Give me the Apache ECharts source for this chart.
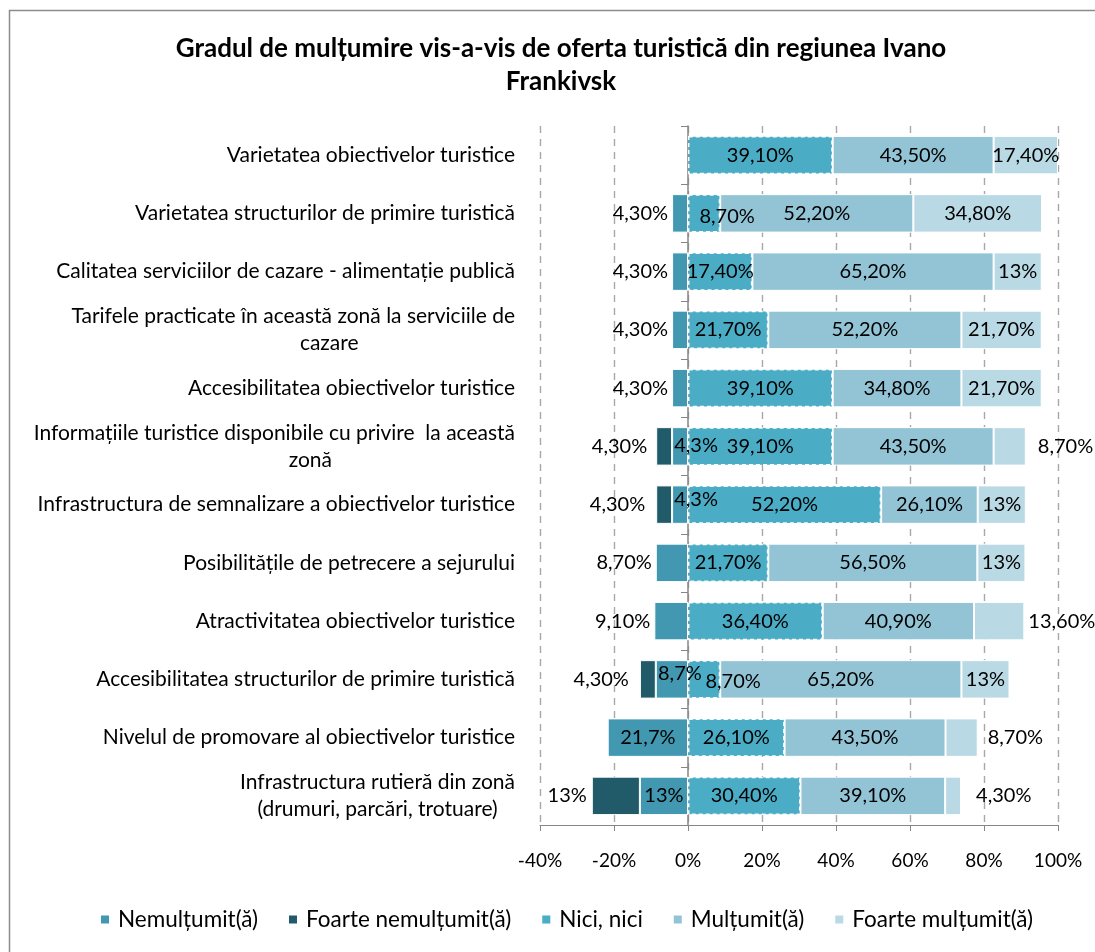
<!DOCTYPE html>
<html>
<head>
<meta charset="utf-8">
<script src="https://cdn.jsdelivr.net/npm/echarts@6/dist/echarts.min.js"></script>
<style>
html,body{margin:0;padding:0;background:#fff;}
#chart{width:1095px;height:952px;}
</style>
</head>
<body>
<div id="chart"></div>
<script>
// ---- data ----
const categories = [
  'Varietatea obiectivelor turistice',
  'Varietatea structurilor de primire turistică',
  'Calitatea serviciilor de cazare - alimentație publică',
  'Tarifele practicate în această zonă la serviciile de\ncazare',
  'Accesibilitatea obiectivelor turistice',
  'Informațiile turistice disponibile cu privire  la această\nzonă',
  'Infrastructura de semnalizare a obiectivelor turistice',
  'Posibilitățile de petrecere a sejurului',
  'Atractivitatea obiectivelor turistice',
  'Accesibilitatea structurilor de primire turistică',
  'Nivelul de promovare al obiectivelor turistice',
  'Infrastructura rutieră din zonă\n(drumuri, parcări, trotuare)'
];
const seriesNames = ['Nemulțumit(ă)', 'Foarte nemulțumit(ă)', 'Nici, nici', 'Mulțumit(ă)', 'Foarte mulțumit(ă)'];
const nemultumit       = [null, 4.3, 4.3, 4.3, 4.3, 4.3, 4.3, 8.7, 9.1, 8.7, 21.7, 13];
const foarteNemultumit = [null, null, null, null, null, 4.3, 4.3, null, null, 4.3, null, 13];
const niciNici         = [39.1, 8.7, 17.4, 21.7, 39.1, 39.1, 52.2, 21.7, 36.4, 8.7, 26.1, 30.4];
const multumit         = [43.5, 52.2, 65.2, 52.2, 34.8, 43.5, 26.1, 56.5, 40.9, 65.2, 43.5, 39.1];
const foarteMultumit   = [17.4, 34.8, 13, 21.7, 21.7, 8.7, 13, 13, 13.6, 13, 8.7, 4.3];

const nemLabels        = [null, '4,30%', '4,30%', '4,30%', '4,30%', '4,3%', '4,3%', '8,70%', '9,10%', '8,7%', '21,7%', '13%'];
const foarteNemLabels  = [null, null, null, null, null, '4,30%', '4,30%', null, null, '4,30%', null, '13%'];
const niciLabels       = ['39,10%', '8,70%', '17,40%', '21,70%', '39,10%', '39,10%', '52,20%', '21,70%', '36,40%', '8,70%', '26,10%', '30,40%'];
const multLabels       = ['43,50%', '52,20%', '65,20%', '52,20%', '34,80%', '43,50%', '26,10%', '56,50%', '40,90%', '65,20%', '43,50%', '39,10%'];
const foarteMultLabels = ['17,40%', '34,80%', '13%', '21,70%', '21,70%', '8,70%', '13%', '13%', '13,60%', '13%', '8,70%', '4,30%'];

const xTicks = { min: -40, max: 100, interval: 20 };

// ---- styling / build ----
const FONT = 'Lato';
const colors = ['#4198B0', '#215B69', '#4BACC6', '#93C4D6', '#B9D9E5'];

// per-point label placement (styling only)
const labelTweaks = [
  { 1: {position: 'left', distance: 4}, 2: {position: 'left', distance: 4}, 3: {position: 'left', distance: 4},
    4: {position: 'left', distance: 4}, 7: {position: 'left', distance: 4}, 8: {position: 'left', distance: 4},
    5: {offset: [16, -1]}, 6: {offset: [16, -5]}, 9: {offset: [8, -6]} },
  { 5: {position: 'left', distance: 9}, 6: {position: 'left', distance: 11}, 9: {position: 'left', distance: 11},
    11: {position: 'left', distance: 5} },
  { 1: {offset: [23, 3]}, 9: {offset: [29, 2]} },
  {},
  { 5: {position: 'right', distance: 12}, 8: {position: 'right', distance: 4},
    10: {position: 'right', distance: 10}, 11: {position: 'right', distance: 15} }
];
// second-line shift of wrapped category labels (styling only)
const wrapStyle = { 3: 'p1', 5: 'p2' };

function buildSeries(idx, values, labels, sign, itemStyleExtra) {
  return {
    name: seriesNames[idx],
    type: 'bar',
    stack: 'total',
    barCategoryGap: '34%',
    itemStyle: Object.assign({ color: colors[idx], borderColor: '#ffffff', borderWidth: 1 }, itemStyleExtra || {}),
    label: {
      show: true,
      position: 'inside',
      color: '#000',
      fontSize: 20,
      fontFamily: FONT,
      formatter: p => labels[p.dataIndex] || ''
    },
    emphasis: { disabled: true },
    data: values.map((v, i) => {
      if (v == null) return null;
      const item = { value: sign * v };
      if (labelTweaks[idx][i]) item.label = labelTweaks[idx][i];
      return item;
    })
  };
}

const series = [
  buildSeries(0, nemultumit, nemLabels, -1),
  buildSeries(1, foarteNemultumit, foarteNemLabels, -1),
  buildSeries(2, niciNici, niciLabels, 1, { borderColor: 'rgba(255,255,255,0.95)', borderWidth: 1.5, borderType: [4, 3] }),
  buildSeries(3, multumit, multLabels, 1),
  buildSeries(4, foarteMultumit, foarteMultLabels, 1)
];

const catText = { align: 'center', fontFamily: FONT, fontSize: 21, color: '#000', lineHeight: 27 };

const chart = echarts.init(document.getElementById('chart'), null, { renderer: 'canvas' });
chart.setOption({
  animation: false,
  backgroundColor: '#fff',
  textStyle: { fontFamily: FONT },
  title: {
    text: 'Gradul de mulțumire vis-a-vis de oferta turistică din regiunea Ivano\nFrankivsk',
    left: 556,
    textAlign: 'center',
    top: 27,
    textStyle: { fontFamily: FONT, fontWeight: 'bold', fontSize: 26, color: '#000', lineHeight: 33 }
  },
  graphic: [{
    type: 'rect', shape: { x: 9.5, y: 10.5, width: 1200, height: 1000 },
    style: { fill: 'none', stroke: '#8c8c8c', lineWidth: 1.5 }, silent: true, z: 100
  }],
  legend: {
    data: seriesNames,
    left: 94,
    top: 903,
    itemWidth: 10,
    itemHeight: 10,
    itemGap: 29,
    icon: 'rect',
    textStyle: { fontFamily: FONT, fontSize: 22.5, color: '#000', padding: [0, 0, 0, 3] },
    selectedMode: false
  },
  grid: { left: 540, right: 37, top: 126, bottom: 127, containLabel: false },
  xAxis: {
    type: 'value',
    min: xTicks.min, max: xTicks.max, interval: xTicks.interval,
    axisLine: { show: true, onZero: false, lineStyle: { color: '#868686', width: 1 } },
    axisTick: { show: true, length: 6, lineStyle: { color: '#868686' } },
    axisLabel: { formatter: '{value}%', fontFamily: FONT, fontSize: 19, color: '#000', margin: 26 },
    splitLine: { show: true, lineStyle: { color: '#a8a8a8', type: [7, 6], width: 1.4 } }
  },
  yAxis: [
    {
      type: 'category', data: categories, inverse: true, position: 'left',
      axisLine: { show: false, onZero: false },
      axisTick: { show: false },
      axisLabel: {
        margin: 25,
        formatter: (v, i) => v.split('\n').map((s, k) => '{' + (k > 0 && wrapStyle[i] ? wrapStyle[i] : 'c') + '|' + s + '}').join('\n'),
        rich: {
          c: catText,
          p1: Object.assign({}, catText, { padding: [0, 0, 0, 72] }),
          p2: Object.assign({}, catText, { padding: [0, 0, 0, 72] })
        }
      }
    },
    {
      type: 'category', data: categories, inverse: true, position: 'left',
      axisLine: { show: true, onZero: true, onZeroAxisIndex: 0, lineStyle: { color: '#868686', width: 1.5 } },
      axisTick: { show: true, length: 7, lineStyle: { color: '#868686' } },
      axisLabel: { show: false },
      splitLine: { show: false }
    }
  ],
  series: series
});
</script>
</body>
</html>
